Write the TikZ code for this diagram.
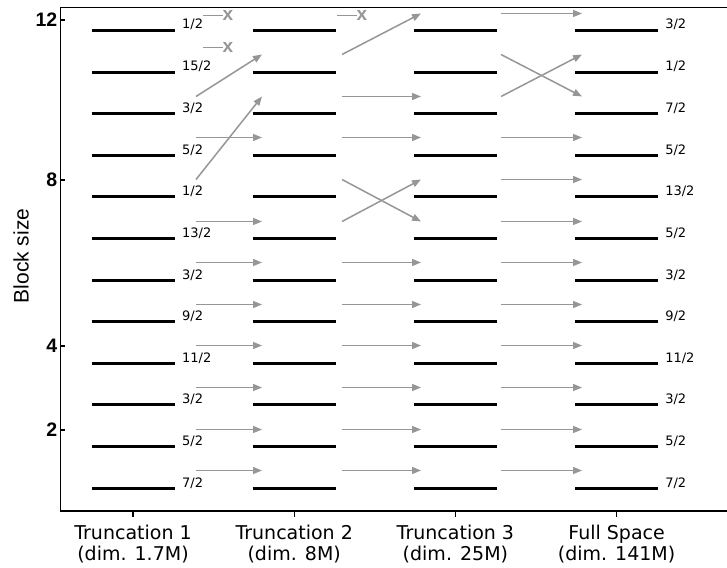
\documentclass[tikz,border=0pt]{standalone}
\usepackage{fontspec}
\setmainfont{DejaVu Sans}
\newfontfamily\axisfont{Liberation Sans}
\usetikzlibrary{arrows.meta,calc}
\definecolor{linkgray}{RGB}{150,150,150}

\begin{document}
\begin{tikzpicture}[x=1pt,y=-1pt,
  levelbar/.style={line width=3pt,black},
  spine/.style={line width=1.4pt,black,line cap=rect},
  tickmark/.style={line width=1.2pt,black},
  link/.style={linkgray,line width=1.5pt,-{Triangle[length=9pt,width=7pt]}},
  deadlink/.style={linkgray,line width=1.5pt},
  deadmark/.style={linkgray,inner sep=0pt,font=\axisfont\bfseries\fontsize{19}{19}\selectfont},
  statelbl/.style={anchor=base west,inner sep=0pt,font=\fontsize{13}{15}\selectfont},
  ticklbl/.style={anchor=east,inner sep=0pt,font=\axisfont\bfseries\fontsize{19.5}{19.5}\selectfont},
  collbl/.style={anchor=north,inner sep=0pt,align=center,font=\fontsize{19}{21}\selectfont}
]
\useasboundingbox (0,0) rectangle (727,567);

% axes frame (left, top and bottom spines)
\draw[spine] (60.5,511) -- (60.5,7.5) -- (727,7.5);
\draw[spine] (60.5,511) -- (727,511);

% y ticks and labels
\foreach \v/\yy in {12/20,8/180,4/346,2/430}{
  \draw[tickmark] (60,\yy) -- (65,\yy);
  \node[ticklbl] (ytick\v) at (57.5,\yy) {\v};
}
\node[rotate=90,inner sep=0pt,font=\axisfont\fontsize{21}{21}\selectfont] (ylabel) at (21,256) {Block size};

% energy levels of the four spaces
\foreach \c/\xc in {1/133,2/294.2,3/455.4,4/616.6}{
  \draw[tickmark] (\xc,511) -- (\xc,517);
  \foreach \k in {0,...,11}{
    \pgfmathsetmacro\yk{round(30+41.6*\k)+0.5}
    \coordinate (L\c-\k) at ({\xc-41.5},\yk);
    \coordinate (R\c-\k) at ({\xc+41.5},\yk);
    \draw[levelbar] (L\c-\k) -- (R\c-\k);
  }
}

% column captions
\node[collbl] (cap1) at (133,524.5)   {Truncation 1\\(dim. 1.7M)};
\node[collbl] (cap2) at (294.2,524.5) {Truncation 2\\(dim. 8M)};
\node[collbl] (cap3) at (455.4,524.5) {Truncation 3\\(dim. 25M)};
\node[collbl] (cap4) at (616.6,524.5) {Full Space\\(dim. 141M)};

% spin labels next to the first and last columns
\foreach \s [count=\k from 0] in {1/2,15/2,3/2,5/2,1/2,13/2,3/2,9/2,11/2,3/2,5/2,7/2}{
  \node[statelbl] (sa\k) at ($(R1-\k)+(7.5,-1.5)$) {\s};
}
\foreach \s [count=\k from 0] in {3/2,1/2,7/2,5/2,13/2,5/2,3/2,9/2,11/2,3/2,5/2,7/2}{
  \node[statelbl] (sd\k) at ($(R4-\k)+(7,-1.5)$) {\s};
}

% arrow anchor points between columns
\foreach \c/\xs in {1/196,2/342,3/501}{
  \foreach \k in {0,...,11}{
    \pgfmathsetmacro\ya{round(12.5+41.6*\k)+0.5}
    \coordinate (out\c-\k) at (\xs,\ya);
  }
}
\foreach \c/\xe in {2/262,3/421,4/582}{
  \foreach \k in {0,...,11}{
    \pgfmathsetmacro\ya{round(12.5+41.6*\k)+0.5}
    \coordinate (in\c-\k) at (\xe,\ya);
  }
}

% Truncation 1 -> Truncation 2
\draw[link] (out1-2) -- (in2-1);
\draw[link] (out1-4) -- (in2-2);
\draw[link] (out1-3) -- (in2-3);
\foreach \k in {5,...,11}{ \draw[link] (out1-\k) -- (in2-\k); }
% Truncation 2 -> Truncation 3
\draw[link] (out2-1) -- (in3-0);
\draw[link] (out2-2) -- (in3-2);
\draw[link] (out2-3) -- (in3-3);
\draw[link] (out2-4) -- (in3-5);
\draw[link] (out2-5) -- (in3-4);
\foreach \k in {6,...,11}{ \draw[link] (out2-\k) -- (in3-\k); }
% Truncation 3 -> Full Space
\draw[link] (out3-0) -- (in4-0);
\draw[link] (out3-1) -- (in4-2);
\draw[link] (out3-2) -- (in4-1);
\foreach \k in {3,...,11}{ \draw[link] (out3-\k) -- (in4-\k); }

% states that disappear
\coordinate (dA) at (203,15.5);
\coordinate (dB) at (203,47.5);
\coordinate (dC) at (337,15.5);
\node[deadmark] (xA) at (228,15.5) {x};
\node[deadmark] (xB) at (228,47.5) {x};
\node[deadmark] (xC) at (362,15.5) {x};
\draw[deadlink] (dA) -- (xA.west);
\draw[deadlink] (dB) -- (xB.west);
\draw[deadlink] (dC) -- (xC.west);
\end{tikzpicture}
\end{document}
